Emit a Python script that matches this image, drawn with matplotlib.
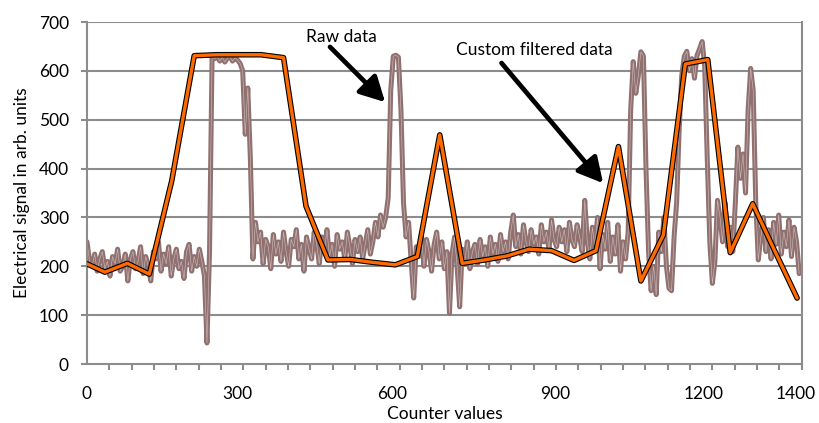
import numpy as np
import matplotlib
matplotlib.use("Agg")
import matplotlib.pyplot as plt

plt.rcParams['font.family'] = ['Lato', 'DejaVu Sans']

# ---------------- data ----------------
raw_counter = np.arange(0, 1400, 5)
raw_values = [
    250, 210, 200, 225, 190, 215, 230, 195, 210, 180,
    220, 205, 235, 190, 200, 225, 170, 215, 230, 195,
    210, 240, 185, 220, 200, 170, 230, 215, 250, 190,
    225, 205, 240, 180, 215, 235, 195, 210, 175, 230,
    245, 190, 220, 200, 235, 210, 180, 43, 230, 628,
    625, 630, 620, 628, 618, 626, 630, 620, 627, 622,
    615, 600, 470, 565, 420, 215, 290, 250, 270, 205,
    255, 240, 195, 265, 225, 250, 210, 270, 230, 200,
    255, 240, 275, 215, 245, 190, 260, 235, 215, 270,
    245, 205, 260, 230, 275, 220, 245, 200, 265, 235,
    250, 215, 270, 240, 205, 255, 230, 260, 215, 245,
    275, 225, 250, 290, 260, 305, 280, 300, 340, 560,
    630, 632, 628, 520, 330, 260, 290, 210, 135, 240,
    220, 265, 200, 255, 230, 190, 245, 270, 215, 250,
    195, 230, 104, 225, 260, 200, 117, 235, 210, 250,
    195, 230, 245, 205, 255, 220, 240, 200, 260, 225,
    245, 210, 265, 230, 250, 215, 270, 305, 240, 265,
    225, 285, 250, 230, 275, 245, 260, 225, 285, 250,
    270, 235, 295, 255, 240, 280, 250, 275, 230, 290,
    255, 240, 285, 260, 230, 335, 250, 215, 280, 240,
    300, 195, 265, 235, 290, 210, 260, 225, 285, 190,
    250, 215, 270, 520, 619, 554, 590, 639, 630, 400,
    230, 150, 200, 142, 270, 230, 300, 200, 155, 150,
    260, 330, 480, 590, 630, 640, 600, 625, 585, 632,
    645, 660, 610, 420, 250, 165, 210, 335, 300, 250,
    330, 240, 280, 230, 330, 444, 380, 430, 350, 520,
    605, 560, 330, 213, 260, 300, 230, 275, 215, 290,
    245, 305, 225, 270, 240, 295, 220, 280, 250, 185,
]

filt_counter = [0, 35, 79, 122, 166, 210, 254, 297, 341, 385, 429, 472, 516,
                560, 604, 647, 691, 735, 779, 822, 866, 910, 954, 997, 1041,
                1085, 1129, 1172, 1216, 1260, 1304, 1347, 1391]
filt_values = [205, 188, 206, 184, 375, 631, 633, 633, 633, 627, 323, 213, 214,
               208, 203, 220, 469, 206, 213, 221, 235, 232, 212, 232, 445,
               170, 264, 614, 623, 228, 328, 232, 135]

xtick_pos = [0, 294, 597, 918, 1208, 1389]
xtick_labels = ['0', '300', '600', '900', '1200', '1400']
yticks = [0, 100, 200, 300, 400, 500, 600, 700]

# ---------------- figure ----------------
fig = plt.figure(figsize=(8.2, 4.23), dpi=100)
ax = fig.add_axes([87/820, 1-364/423, (801.7-87)/820, (364-22)/423])

grid_col = '#8c8c8c'
for y in yticks[1:]:
    ax.axhline(y, color=grid_col, lw=1.5, zorder=1)

raw_col = '#917170'
ax.plot(raw_counter, raw_values, color=raw_col, lw=3.6, zorder=2,
        solid_joinstyle='round', solid_capstyle='round')
ax.plot(raw_counter, raw_values, color='white', lw=0.4, alpha=0.55, zorder=2.1)

ax.plot(filt_counter, filt_values, color='black', lw=4.0, zorder=3,
        solid_joinstyle='round', solid_capstyle='round')
ax.plot(filt_counter, filt_values, color='#ff6a00', lw=2.4, zorder=3.1,
        solid_joinstyle='round', solid_capstyle='round')

ax.set_xlim(0, 1400)
ax.set_ylim(0, 700)

for s in ['left', 'bottom', 'right']:
    ax.spines[s].set_color(grid_col)
    ax.spines[s].set_linewidth(1.5)
ax.spines['top'].set_visible(False)

fs = 12.5
ax.set_yticks(yticks)
ax.tick_params(axis='y', length=4, width=1.5, color=grid_col, pad=9,
               labelsize=fs, labelcolor='black')
ax.set_xticks(xtick_pos)
ax.set_xticklabels(xtick_labels)
ax.set_xticks(np.linspace(0, 1400, 33), minor=True)
ax.tick_params(axis='x', which='major', length=0, pad=16, labelsize=fs)
ax.tick_params(axis='x', which='minor', length=4, width=1.5, color=grid_col)

ax.set_xlabel('Counter values', fontsize=fs, labelpad=3)
ax.set_ylabel('Electrical signal in arb. units', fontsize=fs, labelpad=6)

arrow_props = dict(arrowstyle='-|>,head_length=0.6,head_width=0.32',
                   color='black', lw=3.4, mutation_scale=25,
                   shrinkA=0, shrinkB=0)
ax.annotate('', xy=(584, 536), xytext=(476, 649), arrowprops=arrow_props,
            zorder=5)
ax.text(499, 669, 'Raw data', ha='center', va='center', fontsize=fs, zorder=5)
ax.annotate('', xy=(1011, 370), xytext=(812, 616), arrowprops=arrow_props,
            zorder=5)
ax.text(876, 643, 'Custom filtered data', ha='center', va='center',
        fontsize=fs, zorder=5)

fig.savefig('out.png', dpi=100)
